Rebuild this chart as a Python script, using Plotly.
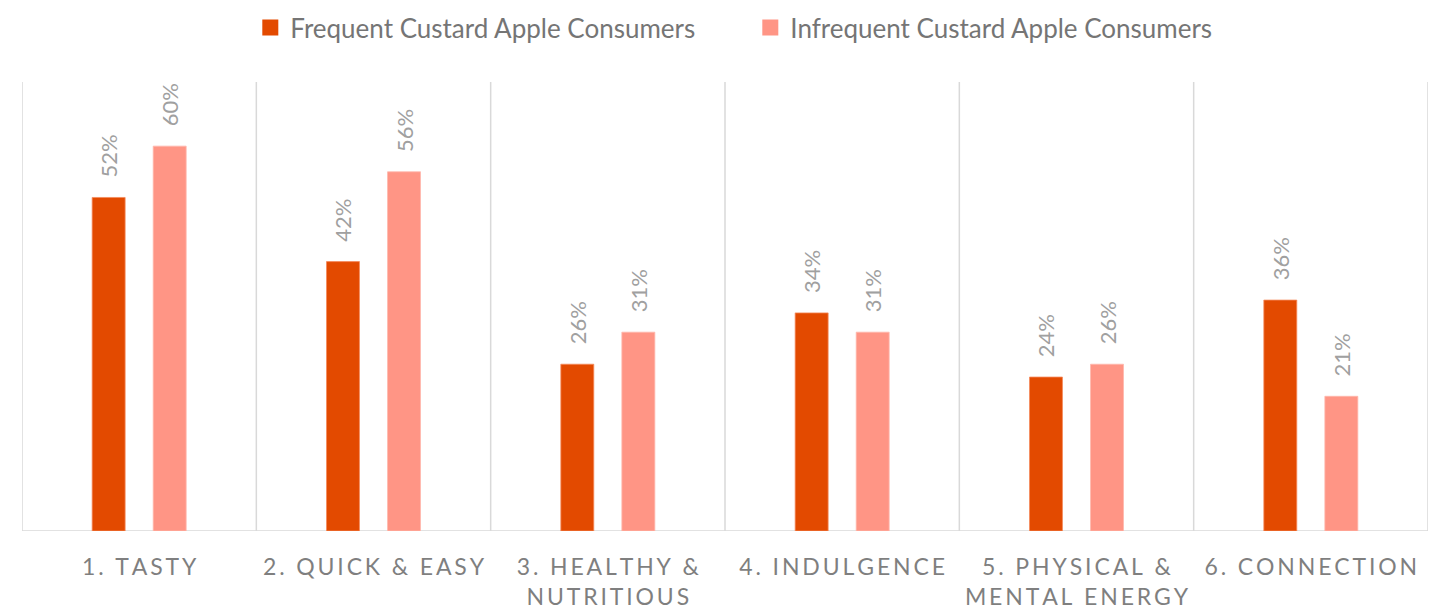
import plotly.graph_objects as go

categories = [
    "1. TASTY",
    "2. QUICK & EASY",
    "3. HEALTHY &<br>NUTRITIOUS",
    "4. INDULGENCE",
    "5. PHYSICAL &<br>MENTAL ENERGY",
    "6. CONNECTION",
]
series_names = ["Frequent Custard Apple Consumers", "Infrequent Custard Apple Consumers"]
frequent = [0.52, 0.42, 0.26, 0.34, 0.24, 0.36]
infrequent = [0.60, 0.56, 0.31, 0.31, 0.26, 0.21]

FONT = "Lato"
DARK = "#E34A00"
LIGHT = "#FF9585"
GRID = "#D9D9D9"
LABEL_GREY = "#A0A0A0"


def spaced(label):
    # widen the tracking of axis labels with thin spaces between letters
    lines = label.split("<br>")
    return "<br>".join("\u2009".join(line) for line in lines)


x_pos = list(range(len(categories)))

fig = go.Figure()
for name, values, color, edge in [
    (series_names[0], frequent, DARK, "#F58A5C"),
    (series_names[1], infrequent, LIGHT, "#FFB8AC"),
]:
    fig.add_trace(go.Bar(
        name=name, x=x_pos, y=values, showlegend=False,
        marker=dict(color=color, line=dict(color=edge, width=0.8)),
        # leading no-break spaces keep the rotated label clear of the bar top
        texttemplate="\u00a0\u00a0\u00a0%{y:.0%}",
        textposition="outside", textangle=-90, constraintext="none",
        textfont=dict(family=FONT, size=22, color=LABEL_GREY),
        cliponaxis=False,
    ))
    # legend entry with a larger square swatch
    fig.add_trace(go.Scatter(
        name=name, x=[None], y=[None], mode="markers",
        marker=dict(symbol="square", size=16, color=color),
    ))

# category separators and baseline
for i in range(len(categories) + 1):
    fig.add_shape(type="line", xref="x", yref="paper",
                  x0=i - 0.5, x1=i - 0.5, y0=0, y1=1,
                  line=dict(color=GRID, width=1.5), layer="below")
fig.add_shape(type="line", xref="paper", yref="y",
              x0=0, x1=1, y0=0, y1=0,
              line=dict(color=GRID, width=1.5), layer="below")

fig.update_layout(
    width=1434, height=613,
    margin=dict(l=22, r=6, t=82, b=82),
    paper_bgcolor="white", plot_bgcolor="white",
    barmode="group", bargap=0.479, bargroupgap=0.46,
    font=dict(family=FONT, color="#7F7F7F"),
    legend=dict(orientation="h", x=0.518, xanchor="center",
                y=0.955, yanchor="middle", yref="container",
                font=dict(family=FONT, size=26, color="#757575"),
                entrywidth=455, itemwidth=30,
                traceorder="normal"),
    showlegend=True,
    xaxis=dict(tickmode="array", tickvals=x_pos,
               ticktext=[spaced(c) for c in categories],
               range=[-0.5, len(categories) - 0.5],
               showgrid=False, zeroline=False, showline=False,
               automargin=False,
               ticks="", ticklabelstandoff=20,
               tickfont=dict(family=FONT, size=23, color="#7F7F7F")),
    yaxis=dict(range=[0, 0.70], visible=False, showgrid=False,
               zeroline=False, automargin=False),
)

fig.write_html("out.html")
